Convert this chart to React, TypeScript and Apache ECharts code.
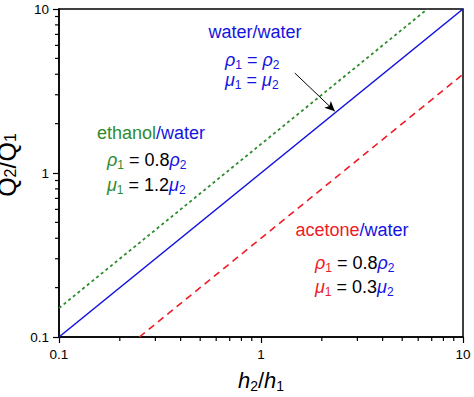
import React, { useEffect, useRef } from "react";
import * as echarts from "echarts";

const waterX = [0.1, 10];
const waterY = [0.1, 10];
const ethanolX = [0.1, 6.667];
const ethanolY = [0.15, 10];
const acetoneX = [0.25, 10];
const acetoneY = [0.1, 4];
const minorTicks = [0.2, 0.3, 0.4, 0.5, 0.6, 0.7, 0.8, 0.9, 2, 3, 4, 5, 6, 7, 8, 9];
const arrowFrom = [1.47, 4.07];
const arrowTo = [2.32, 2.38];
const axisMin = 0.1;
const axisMax = 10;

const FONT = "'Liberation Sans', Arial, sans-serif";
const BLUE = "#1414e0";
const GREEN = "#2e8b2e";
const RED = "#ee1c25";
const FS = 18;
const SFS = 12;

function richSet(c: { [k: string]: string }) {
  const r: any = {};
  Object.keys(c).forEach((k) => {
    r[k] = { fill: c[k], fontSize: FS, fontFamily: FONT, lineHeight: 22, fontStyle: "normal" };
    r[k + "i"] = { fill: c[k], fontSize: FS, fontFamily: FONT, lineHeight: 22, fontStyle: "italic" };
    r[k + "s"] = { fill: c[k], fontSize: SFS, fontFamily: FONT, lineHeight: 10, verticalAlign: "bottom" };
  });
  return r;
}

const rich = richSet({ b: BLUE, g: GREEN, r: RED, k: "#000" });

function txt(x: number, y: number, text: string, align: string = "left") {
  return {
    type: "text",
    x,
    y,
    silent: true,
    style: { text, rich, align, verticalAlign: "middle", fontFamily: FONT, fontSize: FS },
  };
}

export default function App() {
  const ref = useRef<HTMLDivElement>(null);
  useEffect(() => {
    if (!ref.current) return;
    const chart = echarts.init(ref.current, null, { renderer: "svg" });
    const pair = (xs: number[], ys: number[]) => xs.map((x, i) => [x, ys[i]]);
    const axisCommon = {
      type: "log",
      logBase: 10,
      min: axisMin,
      max: axisMax,
      axisLine: { show: true, lineStyle: { color: "#000", width: 1.5 } },
      axisTick: { show: true, inside: false, length: 6, lineStyle: { color: "#000", width: 1.2 } },
      splitLine: { show: false },
      minorTick: { show: false },
      axisLabel: { color: "#000", fontSize: 13.5, fontFamily: FONT, margin: 10 },
    };
    chart.setOption({
      animation: false,
      textStyle: { fontFamily: FONT },
      grid: {
        left: 59,
        top: 9,
        right: 11,
        bottom: 60,
        show: true,
        borderColor: "#000",
        borderWidth: 1.5,
        containLabel: false,
        outerBoundsMode: "none",
      },
      xAxis: {
        ...axisCommon,
        name: "{i|h}{s|2}{n|/}{i|h}{s|1}",
        nameLocation: "middle",
        nameGap: 30,
        nameTextStyle: {
          rich: {
            i: { fontSize: 22, fontStyle: "italic", fontFamily: FONT, color: "#000", lineHeight: 26 },
            n: { fontSize: 22, fontFamily: FONT, color: "#000", lineHeight: 26 },
            s: { fontSize: 14, fontFamily: FONT, color: "#000", lineHeight: 12, verticalAlign: "bottom" },
          },
        },
      },
      yAxis: {
        ...axisCommon,
        name: "{n|Q}{s|2}{n|/Q}{s|1}",
        nameLocation: "middle",
        nameGap: 28,
        nameRotate: 90,
        nameTextStyle: {
          padding: [0, 0, 0, 16],
          rich: {
            n: { fontSize: 25, fontFamily: FONT, color: "#000", lineHeight: 24 },
            s: { fontSize: 16, fontFamily: FONT, color: "#000", lineHeight: 11, verticalAlign: "bottom" },
          },
        },
      },
      series: [
        {
          type: "line",
          data: pair(waterX, waterY),
          showSymbol: false,
          symbol: "none",
          lineStyle: { color: BLUE, width: 1.6 },
          markLine: {
            silent: true,
            symbol: ["none", "arrow"],
            symbolSize: [7, 10],
            label: { show: false },
            lineStyle: { color: "#000", width: 1, type: "solid" },
            data: [[{ coord: arrowFrom }, { coord: arrowTo }]],
          },
        },
        {
          type: "line",
          data: pair(ethanolX, ethanolY),
          symbol: "none",
          lineStyle: { color: GREEN, width: 1.8, type: [3, 3] },
        },
        {
          type: "line",
          data: pair(acetoneX, acetoneY),
          symbol: "none",
          lineStyle: { color: RED, width: 1.6, type: [7, 5] },
        },
        {
          type: "custom",
          silent: true,
          clip: false,
          data: minorTicks.map((v) => [v, axisMin]),
          renderItem: (params: any, api: any) => {
            const p = api.coord([api.value(0), api.value(1)]);
            return {
              type: "line",
              shape: { x1: p[0], y1: p[1], x2: p[0], y2: p[1] + 4 },
              style: { stroke: "#000", lineWidth: 1.2 },
            };
          },
        },
        {
          type: "custom",
          silent: true,
          clip: false,
          data: minorTicks.map((v) => [axisMin, v]),
          renderItem: (params: any, api: any) => {
            const p = api.coord([api.value(0), api.value(1)]);
            return {
              type: "line",
              shape: { x1: p[0], y1: p[1], x2: p[0] - 4, y2: p[1] },
              style: { stroke: "#000", lineWidth: 1.2 },
            };
          },
        },
      ],
      graphic: [
        txt(255, 32, "{b|water/water}", "center"),
        txt(225, 60, "{bi|ρ}{bs|1}{b| = }{bi|ρ}{bs|2}"),
        txt(225, 80, "{bi|μ}{bs|1}{b| = }{bi|μ}{bs|2}"),
        txt(151, 133, "{g|ethanol}{b|/water}", "center"),
        txt(107, 160, "{gi|ρ}{gs|1}{k| = 0.8}{bi|ρ}{bs|2}"),
        txt(107, 185, "{gi|μ}{gs|1}{k| = 1.2}{bi|μ}{bs|2}"),
        txt(352, 230, "{r|acetone}{b|/water}", "center"),
        txt(315, 263, "{ri|ρ}{rs|1}{k| = 0.8}{bi|ρ}{bs|2}"),
        txt(315, 287, "{ri|μ}{rs|1}{k| = 0.3}{bi|μ}{bs|2}"),
      ],
    });
    return () => chart.dispose();
  }, []);
  return <div ref={ref} style={{ width: 474, height: 397, position: "absolute", left: 0, top: 0, background: "#fff" }} />;
}
